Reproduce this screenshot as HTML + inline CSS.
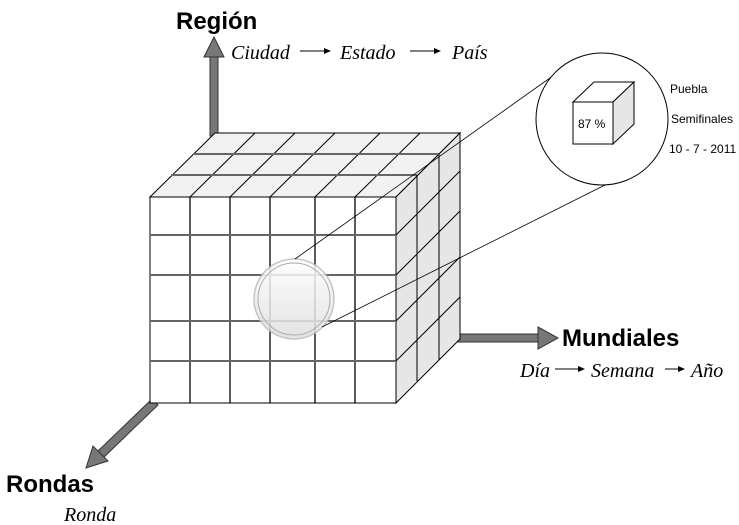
<!DOCTYPE html>
<html><head><meta charset="utf-8"><style>
body{margin:0;background:#fff}
svg{display:block}
.b{font-family:"Liberation Sans",sans-serif;font-weight:bold;font-size:24px;fill:#000}
.i{font-family:"Liberation Serif",serif;font-style:italic;font-size:20px;fill:#000}
.s{font-family:"Liberation Sans",sans-serif;font-size:12px;fill:#000}
</style></head><body>
<svg width="739" height="525" viewBox="0 0 739 525">
<defs>
<linearGradient id="lg" x1="0" y1="0" x2="0" y2="1"><stop offset="0" stop-color="#fff"/><stop offset="1" stop-color="#dedede"/></linearGradient>
</defs>
<g>
<rect x="210" y="56" width="8" height="80" fill="#777" stroke="#333" stroke-width="1"/>
<path d="M204,57 L214,37 L224,57 z" fill="#777" stroke="#333"/>
</g>
<g>
<rect x="458" y="334" width="82" height="8" fill="#777" stroke="#333"/>
<path d="M538,327 L558,338 L538,349 z" fill="#777" stroke="#333"/>
</g>
<g>
<path d="M152,399 L158,405 L104,457 L98,451 z" fill="#777" stroke="#333"/>
<path d="M93,446 L86,468 L108,461 z" fill="#777" stroke="#333"/>
</g>
<g stroke="#000" stroke-width="1">
<path d="M150,197 L215,133 L460,133 L396,197 z" fill="#f2f2f2"/>
<path d="M396,197 L460,133 L460,339 L396,403 z" fill="#e6e6e6"/>
<rect x="150" y="197" width="246" height="206" fill="#fff"/>
<g id="cl"></g>
</g>
<circle cx="294" cy="299" r="40" fill="url(#lg)" stroke="#bbb" stroke-width="1.5" opacity="0.85"/>
<circle cx="294" cy="299" r="36" fill="none" stroke="#aaa" stroke-width="1"/>
<line x1="295" y1="259" x2="557" y2="73" stroke="#000" stroke-width="0.8"/>
<line x1="322" y1="327" x2="607" y2="184" stroke="#000" stroke-width="0.8"/>
<circle cx="602" cy="119" r="66" fill="#fff" stroke="#000"/>
<g stroke="#000">
<path d="M573,102 L594,82 L634,82 L613,102 z" fill="#fff"/>
<path d="M613,102 L634,82 L634,124 L613,144 z" fill="#e6e6e6"/>
<rect x="573" y="102" width="40" height="42" fill="#fff"/>
</g>
<text x="578" y="128" class="s">87 %</text>
<text x="670" y="93" class="s">Puebla</text>
<text x="671" y="123" class="s">Semifinales</text>
<text x="669" y="153" class="s">10 - 7 - 2011</text>
<text x="176" y="29" class="b">Región</text>
<g>
<text x="231" y="59" class="i">Ciudad</text>
<line x1="300" y1="51" x2="324" y2="51" stroke="#000"/><path d="M324,48 L331,51 L324,54z"/>
<text x="340" y="59" class="i">Estado</text>
<line x1="410" y1="51" x2="434" y2="51" stroke="#000"/><path d="M434,48 L441,51 L434,54z"/>
<text x="452" y="59" class="i">País</text>
</g>
<text x="562" y="346" class="b">Mundiales</text>
<g>
<text x="520" y="377" class="i">Día</text>
<line x1="555" y1="369" x2="578" y2="369" stroke="#000"/><path d="M578,366 L585,369 L578,372z"/>
<text x="591" y="377" class="i">Semana</text>
<line x1="665" y1="369" x2="678" y2="369" stroke="#000"/><path d="M678,366 L685,369 L678,372z"/>
<text x="691" y="377" class="i">Año</text>
</g>
<text x="6" y="492" class="b">Rondas</text>
<text x="64" y="521" class="i">Ronda</text>
</svg>
<script>
const cols=[150,190,230,270,315,355,396];
const rows=[235,275,321,361];
const depth=[[21,-22],[43,-43]];
const g=document.getElementById('cl');
function ln(x1,y1,x2,y2,c,w){const l=document.createElementNS('http://www.w3.org/2000/svg','line');


l.setAttribute('x1',x1);l.setAttribute('y1',y1);l.setAttribute('x2',x2);l.setAttribute('y2',y2);l.setAttribute('stroke',c);l.setAttribute('stroke-width',w);g.appendChild(l);}
cols.slice(1,-1).forEach(x=>{ln(x,197,x,403,'#000',1.3);ln(x,197,x+65,133,'#000',1);});
rows.forEach(y=>{ln(150,y,396,y,'#666',2);ln(396,y,460,y-64,'#000',1);});
depth.forEach(([dx,dy])=>{ln(150+dx,197+dy,396+dx,197+dy,'#666',2);ln(396+dx,197+dy,396+dx,403+dy,'#000',1);});
</script>
</body></html>
